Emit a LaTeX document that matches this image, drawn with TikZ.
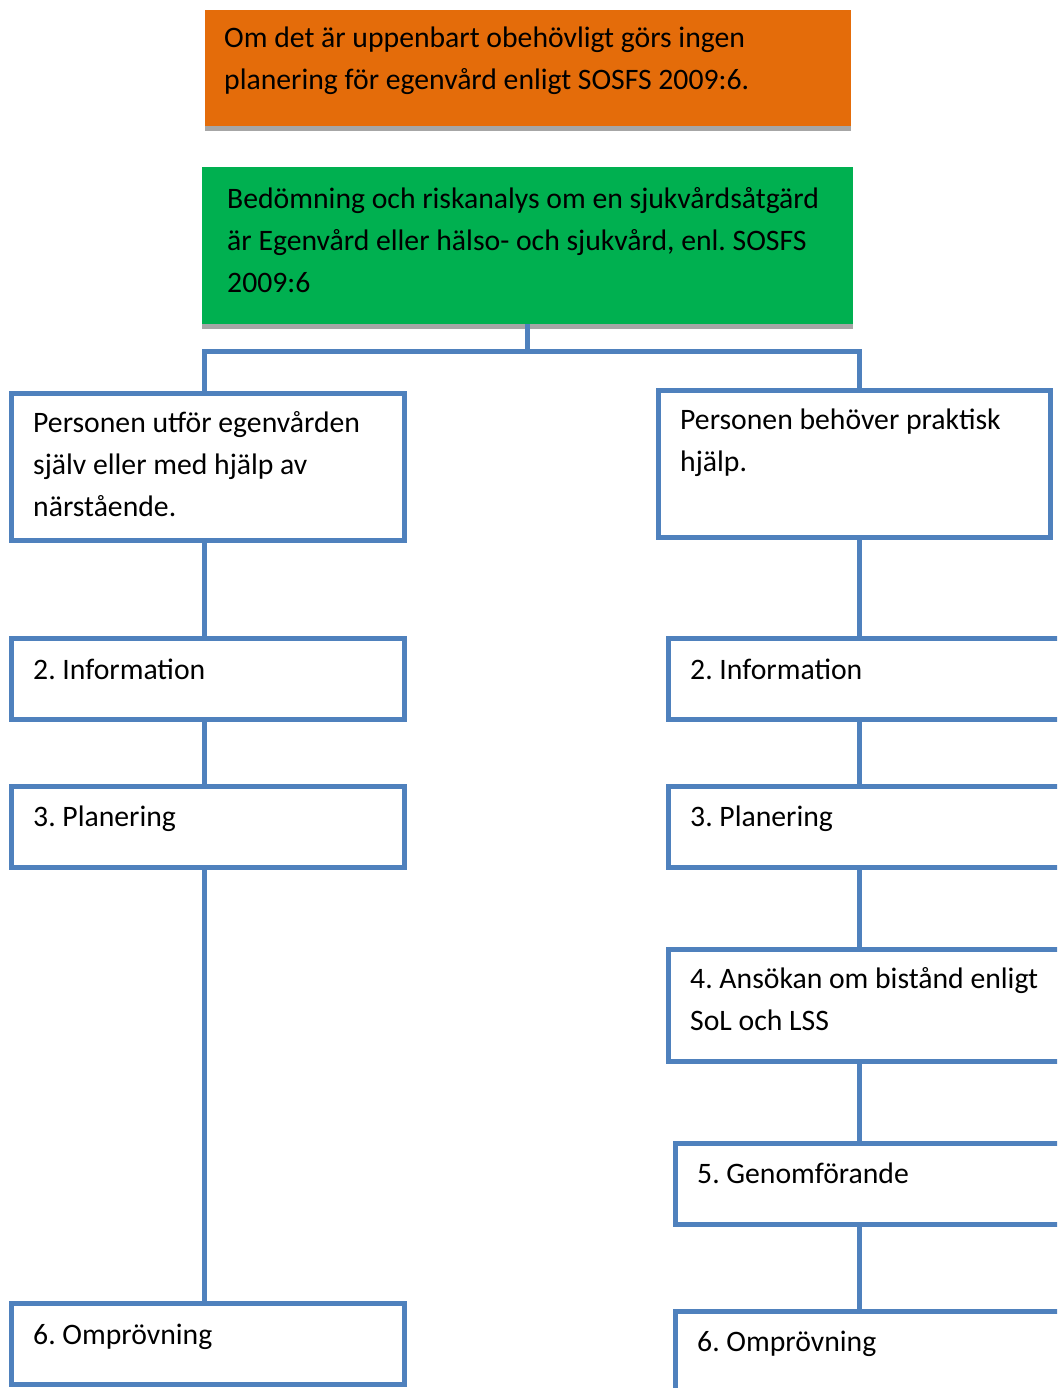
\documentclass[tikz,border=0pt]{standalone}
\usepackage{fontspec}
\setmainfont{Carlito}
\frenchspacing
\definecolor{orng}{HTML}{E46C0A}
\definecolor{grn}{HTML}{00B050}
\definecolor{blu}{HTML}{4F81BD}
\definecolor{shd}{HTML}{A6A6A6}
\begin{document}
\begin{tikzpicture}[x=1pt,y=-1pt,
  frame/.style={draw=blu, line width=5pt, fill=white, inner sep=0pt, outer sep=0pt, anchor=north west},
  conn/.style={draw=blu, line width=5pt},
  colorbox/.style={inner sep=0pt, outer sep=0pt, anchor=north west},
  txt/.style={anchor=north west, inner sep=0pt, align=left, font=\fontsize{29.7}{42}\selectfont},
]
\useasboundingbox (0,0) rectangle (1057,1388);
\clip (0,0) rectangle (1057,1388);
\coordinate (colL) at (204.5,0);
\coordinate (colR) at (859,0);

% top coloured boxes
\fill[shd] (205,15) rectangle (851,131);
\node[colorbox, fill=orng, minimum width=646pt, minimum height=116pt] (orange) at (205,10) {};
\fill[shd] (202,172) rectangle (853,329);
\node[colorbox, fill=grn, minimum width=651pt, minimum height=157pt] (green) at (202,167) {};
\path (green.south) ++(0,27) coordinate (hub);

% left column boxes
\node[frame, minimum width=393pt, minimum height=146.5pt] (L1) at (11.5,393.5) {};
\node[frame, minimum width=393pt, minimum height=81pt] (L2) at (11.5,638.5) {};
\node[frame, minimum width=393pt, minimum height=81pt] (L3) at (11.5,786.5) {};
\node[frame, minimum width=393pt, minimum height=81pt] (L6) at (11.5,1303.5) {};

% right column boxes
\node[frame, minimum width=391.5pt, minimum height=146.5pt] (R1) at (658.5,390.5) {};
\node[frame, minimum width=420pt, minimum height=81pt] (R2) at (668.5,638.5) {};
\node[frame, minimum width=420pt, minimum height=81pt] (R3) at (668.5,786.5) {};
\node[frame, minimum width=420pt, minimum height=112pt] (R4) at (668.5,949.5) {};
\node[frame, minimum width=420pt, minimum height=81pt] (R5) at (675.5,1143.5) {};
\node[frame, minimum width=420pt, minimum height=100pt] (R6) at (675.5,1311.5) {};

% connectors
\draw[conn] (green.south) -- (hub);
\draw[conn] (L1.north -| colL) |- (hub) -| (R1.north -| colR);
\draw[conn] (L1.south -| colL) -- (L2.north -| colL);
\draw[conn] (L2.south -| colL) -- (L3.north -| colL);
\draw[conn] (L3.south -| colL) -- (L6.north -| colL);
\draw[conn] (R1.south -| colR) -- (R2.north -| colR);
\draw[conn] (R2.south -| colR) -- (R3.north -| colR);
\draw[conn] (R3.south -| colR) -- (R4.north -| colR);
\draw[conn] (R4.south -| colR) -- (R5.north -| colR);
\draw[conn] (R5.south -| colR) -- (R6.north -| colR);

% texts
\node[txt] (tO) at (224,17.6) {\strut Om det är uppenbart obehövligt görs ingen\\planering för egenvård enligt SOSFS 2009:6.};
\node[txt] (tG) at (227,178.6) {\strut Bedömning och riskanalys om en sjukvårdsåtgärd\\är Egenvård eller hälso- och sjukvård, enl. SOSFS\\2009:6};
\node[txt] (tL1) at (33,402.6) {\strut Personen utför egenvården\\själv eller med hjälp av\\närstående.};
\node[txt] (tL2) at (33,649.6) {\strut 2. Information};
\node[txt] (tL3) at (33,796.6) {\strut 3. Planering};
\node[txt] (tL6) at (33,1314.6) {\strut 6. Omprövning};
\node[txt] (tR1) at (680,399.6) {\strut Personen behöver praktisk\\hjälp.};
\node[txt] (tR2) at (690,649.6) {\strut 2. Information};
\node[txt] (tR3) at (690,796.6) {\strut 3. Planering};
\node[txt] (tR4) at (690,958.6) {\strut 4. Ansökan om bistånd enligt\\SoL och LSS};
\node[txt] (tR5) at (697,1153.6) {\strut 5. Genomförande};
\node[txt] (tR6) at (697,1321.6) {\strut 6. Omprövning};
\end{tikzpicture}
\end{document}
